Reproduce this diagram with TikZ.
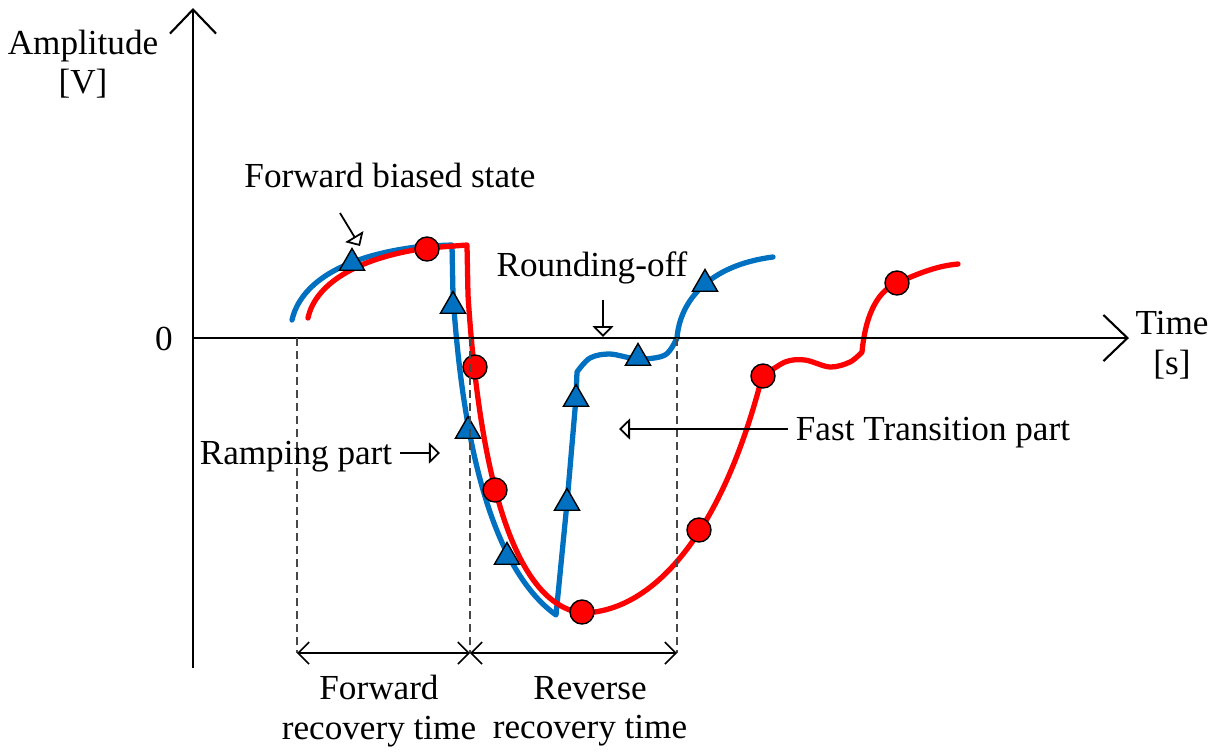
\documentclass[tikz,border=0pt]{standalone}
\usepackage{fontspec}
\setmainfont{Liberation Serif}
\usepackage{tikz}
\usetikzlibrary{arrows.meta,shapes.geometric}

\definecolor{wavered}{RGB}{255,0,0}
\definecolor{waveblue}{RGB}{0,112,192}

\begin{document}
\begin{tikzpicture}[
  x=0.01cm, y=-0.01cm,
  font=\fontsize{10}{11.2}\selectfont,
  lbl/.style={align=center, inner sep=2pt},
  axisline/.style={line width=0.6pt, -{Straight Barb[length=0.24cm, width=0.46cm]}},
  guide/.style={dash pattern=on 0.08cm off 0.05cm, line width=0.5pt, color=black!72},
  spanline/.style={line width=0.45pt,
    {Straight Barb[length=0.11cm, width=0.22cm]}-{Straight Barb[length=0.11cm, width=0.22cm]}},
  pointer/.style={line width=0.5pt, -{Triangle[length=0.11cm, width=0.21cm, fill=white]}},
  redwave/.style={line width=1.5pt, color=wavered, line join=round, line cap=round},
  bluewave/.style={line width=1.5pt, color=waveblue, line join=round, line cap=round},
  dotmark/.style={circle, draw=black, line width=0.4pt, fill=wavered,
                  minimum size=0.24cm, inner sep=0pt},
  trimark/.style={regular polygon, regular polygon sides=3, draw=black, line width=0.4pt,
                  fill=waveblue, minimum size=0.29cm, inner sep=0pt},
]
\useasboundingbox (0,0) rectangle (1217,753);

\coordinate (origin) at (193,338);
\coordinate (ytop)   at (193,8);
\coordinate (ybot)   at (193,668);
\coordinate (xtip)   at (1129,338);

\coordinate (tL) at (297,338);
\coordinate (tM) at (470,338);
\coordinate (tR) at (677,338);
\coordinate (dL) at (297,653);
\coordinate (dM) at (470,653);
\coordinate (dR) at (677,653);

% waveforms
\draw[bluewave] (292,320) .. controls (300,285) and (340,255) .. (425,246) -- (452,245)
  -- (453,295) .. controls (460,400) and (480,560) .. (556,615)
  -- (567,503) -- (576,398) -- (577,372)
  -- plot[smooth, tension=0.55] coordinates {(577,372) (590,358) (610,354) (638,359) (665,355) (677,338)}
  .. controls (680,300) and (710,265) .. (773,257);

\draw[redwave] (308,318) .. controls (315,285) and (355,258) .. (427,248) -- (467,245)
  -- (468,295) .. controls (476,420) and (500,602) .. (582,613)
  .. controls (650,612) and (720,540) .. (762,377)
  -- plot[smooth, tension=0.55] coordinates {(762,377) (785,362) (805,360) (830,367) (850,362) (862,352)}
  .. controls (866,310) and (880,290) .. (897,283)
  .. controls (915,275) and (935,266) .. (958,264);

\foreach \x/\y [count=\i] in {352/263, 453/306, 468/431, 507/557, 567/503, 576/399, 638/358, 705/284}
  \node[trimark] (tri\i) at (\x,\y) {};
\foreach \x/\y [count=\i] in {427/249, 475/367, 495/490, 582/612, 699/530, 763/376, 897/283}
  \node[dotmark] (dot\i) at (\x,\y) {};

% axes
\draw[axisline] (ybot) -- (ytop);
\draw[axisline] (origin) -- (xtip);

\draw[guide] (tL) -- (dL);
\draw[guide] (tM) -- (dM);
\draw[guide] (tR) -- (dR);
\draw[spanline] (dL) -- (dM);
\draw[spanline] (dM) -- (dR);

\node[lbl] (amp)  at (83,64)    {Amplitude\\{[V]}};
\node[lbl] (zero) at (164,339)  {0};
\node[lbl] (time) at (1172,345) {Time\\{[s]}};
\node[lbl] (fwd)  at (379,711)  {Forward\\recovery time};
\node[lbl] (rev)  at (590,711)  {Reverse\\recovery time};

\node[lbl] (fbs)   at (390,175) {Forward biased state};
\node[lbl] (round) at (592,268) {Rounding-off};
\node[lbl] (ramp)  at (296,457) {Ramping part};
\node[lbl] (fast)  at (933,433) {Fast Transition part};

\coordinate (fbsTail)   at (340,213);
\coordinate (fbsTip)    at (360,246);
\coordinate (roundTail) at (603,300);
\coordinate (roundTip)  at (603,337);
\coordinate (rampTip)   at (440,453);
\coordinate (fastTip)   at (619,429);

\draw[pointer] (fbsTail) -- (fbsTip);
\draw[pointer] (roundTail) -- (roundTip);
\draw[pointer] (ramp.east |- rampTip) -- (rampTip);
\draw[pointer] (fast.west |- fastTip) -- (fastTip);
\end{tikzpicture}
\end{document}
